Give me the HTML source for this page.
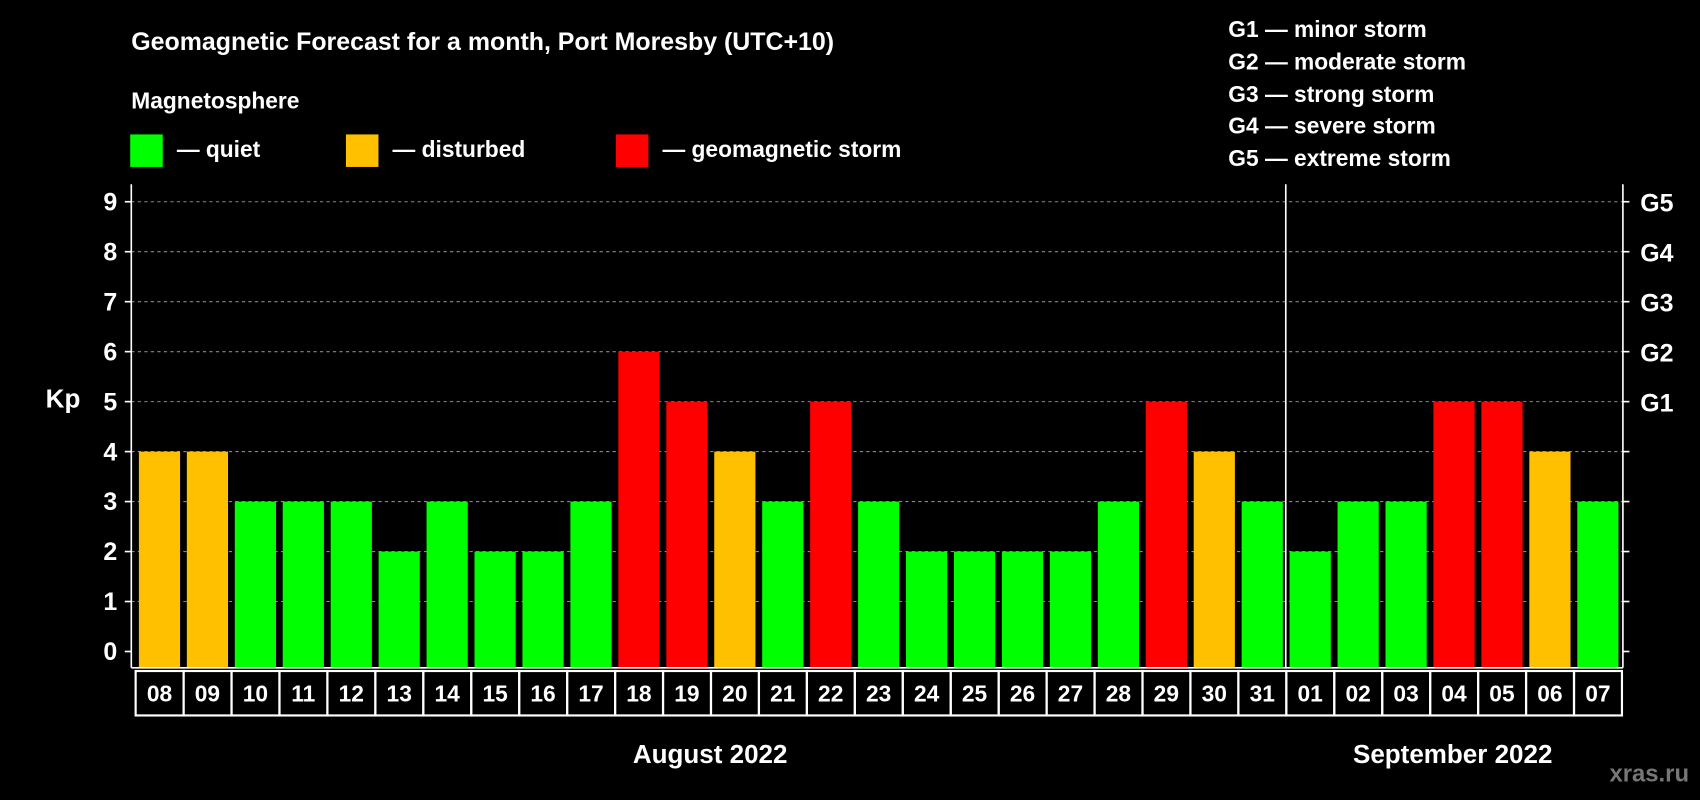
<!DOCTYPE html>
<html><head><meta charset="utf-8"><style>
html,body{margin:0;padding:0;background:#000;}
svg{display:block;font-family:"Liberation Sans",Arial,sans-serif;font-weight:bold;}
</style></head><body>
<svg width="1700" height="800" viewBox="0 0 1568 738" xmlns="http://www.w3.org/2000/svg">
<rect width="1568" height="738" fill="#000"/>
<text x="121" y="46" fill="#fff" font-size="23">Geomagnetic Forecast for a month, Port Moresby (UTC+10)</text>
<text x="121" y="100" fill="#fff" font-size="21">Magnetosphere</text>
<g><rect x="120" y="124" width="30" height="30" fill="#00ff00"/><text x="163" y="145" fill="#fff" font-size="21">— quiet</text></g>
<g><rect x="319" y="124" width="30" height="30" fill="#ffc000"/><text x="362" y="145" fill="#fff" font-size="21">— disturbed</text></g>
<g><rect x="568" y="124" width="30" height="30" fill="#ff0000"/><text x="611" y="145" fill="#fff" font-size="21">— geomagnetic storm</text></g>
<g fill="#fff" font-size="21">
<text x="1133" y="34">G1 — minor storm</text>
<text x="1133" y="64">G2 — moderate storm</text>
<text x="1133" y="94">G3 — strong storm</text>
<text x="1133" y="123">G4 — severe storm</text>
<text x="1133" y="153">G5 — extreme storm</text>
</g>
<text x="58" y="376" fill="#fff" font-size="24" text-anchor="middle">Kp</text>
<g id="grid"></g>
<g id="bars"></g>
<g id="axes"></g>
<text x="655" y="704" fill="#fff" font-size="24" text-anchor="middle">August 2022</text>
<text x="1340" y="704" fill="#fff" font-size="24" text-anchor="middle">September 2022</text>
<text x="1558" y="721" fill="#777" font-size="22" text-anchor="end">xras.ru</text>
</svg>
<script>
const days=["08","09","10","11","12","13","14","15","16","17","18","19","20","21","22","23","24","25","26","27","28","29","30","31","01","02","03","04","05","06","07"];
const kp=[4,4,3,3,3,2,3,2,2,3,6,5,4,3,5,3,2,2,2,2,3,5,4,3,2,3,3,5,5,4,3];
const yTicks=[0,1,2,3,4,5,6,7,8,9];
const gLabels=["","","","","","G1","G2","G3","G4","G5"];
const NS="http://www.w3.org/2000/svg";
const L=121,R=1497,T=170,B=616,X0=128,P=44.23,BW=38;
const y=v=>601-v*46.1;
const x=i=>X0+i*P;
function mk(tag,attrs,parent,txt){const e=document.createElementNS(NS,tag);for(const k in attrs)e.setAttribute(k,attrs[k]);if(txt!==undefined)e.textContent=txt;document.getElementById(parent).appendChild(e);return e;}
const col=v=>v>=5?"#ff0000":(v==4?"#ffc000":"#00ff00");
yTicks.forEach((t,i)=>{
 if(t>0){const g=mk("line",{x1:L,x2:R,y1:y(t),y2:y(t),stroke:"#888","stroke-dasharray":"3,3"},"grid");
 
 }
 const tl=mk("line",{x1:L-6,x2:L,y1:y(t),y2:y(t),stroke:"#fff","stroke-width":1.5},"axes");
 
 
 const tr=mk("line",{x1:R,x2:R+6,y1:y(t),y2:y(t),stroke:"#fff","stroke-width":1.5},"axes");
 
 
 const lb=mk("text",{x:L-13,y:y(t)+8,fill:"#fff","font-size":23,"text-anchor":"end"},"axes",String(t));
 
 
 if(gLabels[i]){const gl=mk("text",{x:R+16,y:y(t)+9,fill:"#fff","font-size":23},"axes",gLabels[i]);
 
 }
});
kp.forEach((v,i)=>{
 const b=mk("rect",{x:x(i),y:y(v),width:BW,height:B-y(v),fill:col(v)},"bars");
 
 
 const c=mk("rect",{x:x(i)-3,y:619,width:P,height:41,fill:"none",stroke:"#fff","stroke-width":2},"axes");
 
 
 const d=mk("text",{x:x(i)+BW/2,y:647,fill:"#fff","font-size":21,"text-anchor":"middle"},"axes",days[i]);
 
 
});
[[L,T,L,B],[R,T,R,B],[L,B,R,B],[1186,T,1186,B]].forEach(a=>{
 const l=mk("line",{x1:a[0],y1:a[1],x2:a[2],y2:a[3],stroke:"#fff","stroke-width":1.5},"axes");
 
 
});
</script>
</body></html>
